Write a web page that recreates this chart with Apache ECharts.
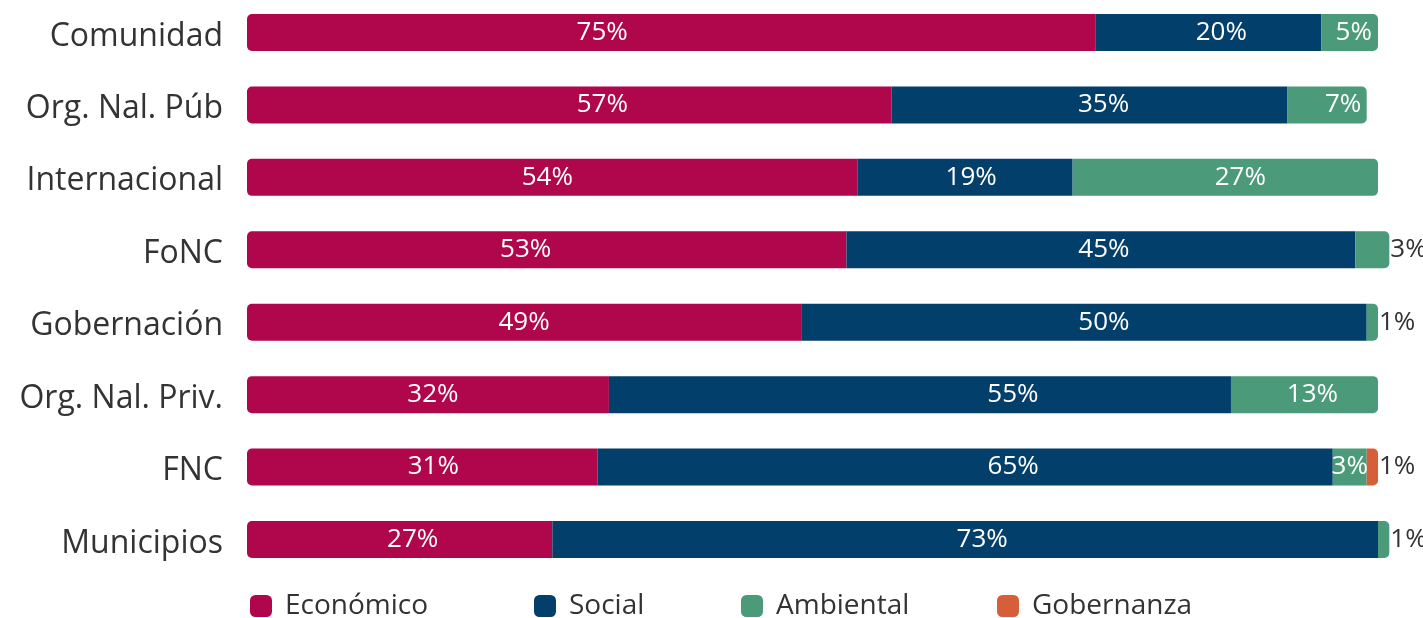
<!DOCTYPE html>
<html>
<head>
<meta charset="utf-8">
<script src="https://cdn.jsdelivr.net/npm/echarts@6/dist/echarts.min.js"></script>
<style>
  html, body { margin: 0; padding: 0; background: #fff; }
  #chart { width: 1423px; height: 618px; }
</style>
</head>
<body>
<div id="chart"></div>
<script>
// Share of each dimension (%) by source
const categories = ['Comunidad', 'Org. Nal. Púb', 'Internacional', 'FoNC', 'Gobernación', 'Org. Nal. Priv.', 'FNC', 'Municipios'];
const economico  = [75, 57, 54, 53, 49, 32, 31, 27];
const social     = [20, 35, 19, 45, 50, 55, 65, 73];
const ambiental  = [5, 7, 27, 3, 1, 13, 3, 1];
const gobernanza = [0, 0, 0, 0, 0, 0, 1, 0];

const seriesNames = ['Económico', 'Social', 'Ambiental', 'Gobernanza'];
const seriesValues = [economico, social, ambiental, gobernanza];
const colors = ['#B0064B', '#023F6B', '#4B9A79', '#D65F3A'];

// Horizontal nudges (px) for the labels inside the segments
const labelNudge = [
  [-69, 33, -5, -21, 0, 5, 11, 13],
  [13, 14, 6, 3, 20, 93, 48, 17],
  [4, 16, 15, 0, 0, 8, 0, 0],
  [0, 0, 0, 0, 0, 0, 0, 0]
];

const FONT = '"Open Sans", sans-serif';
const R = 5;

// Index of the last non-zero segment in each row
const lastIdx = categories.map((_, i) => {
  let last = 0;
  seriesValues.forEach((arr, s) => { if (arr[i] > 0) last = s; });
  return last;
});

const series = seriesValues.map((arr, s) => ({
  name: seriesNames[s],
  type: 'bar',
  stack: 'total',
  barWidth: 37,
  clip: false,
  itemStyle: { color: colors[s] },
  data: arr.map((v, i) => {
    const isFirst = s === 0;
    const isLast = s === lastIdx[i];
    const radius = [isFirst ? R : 0, isLast ? R : 0, isLast ? R : 0, isFirst ? R : 0];
    const outside = isLast && v <= 3;
    return {
      value: v,
      itemStyle: { borderRadius: radius },
      label: {
        show: v > 0,
        position: outside ? 'right' : 'inside',
        offset: outside ? [0, 0] : [labelNudge[s][i], 0],
        distance: 1,
        color: outside ? '#333' : '#fff',
        fontFamily: FONT,
        fontSize: 26,
        formatter: '{c}%'
      }
    };
  })
}));

const legendLefts = [250, 534, 741, 997];
const legends = seriesNames.map((n, s) => ({
  data: [n],
  left: legendLefts[s],
  top: 592,
  padding: 0,
  icon: 'roundRect',
  itemWidth: 22,
  itemHeight: 22,
  selectedMode: false,
  textStyle: { fontFamily: FONT, fontSize: 28, lineHeight: 22, color: '#333', padding: [0, 0, 0, 8] }
}));

const chart = echarts.init(document.getElementById('chart'));
chart.setOption({
  animation: false,
  grid: { left: 247, right: 45, top: 32.5, height: 507 },
  xAxis: { type: 'value', min: 0, max: 100, show: false },
  yAxis: {
    type: 'category',
    data: categories,
    inverse: true,
    boundaryGap: false,
    axisLine: { show: false },
    axisTick: { show: false },
    splitLine: { show: false },
    axisLabel: {
      margin: 24,
      formatter: '{cat|{value}}',
      rich: {
        cat: { fontFamily: FONT, fontSize: 32, color: '#333', padding: [8, 0, 0, 0] }
      }
    }
  },
  legend: legends,
  series: series
});
</script>
</body>
</html>
